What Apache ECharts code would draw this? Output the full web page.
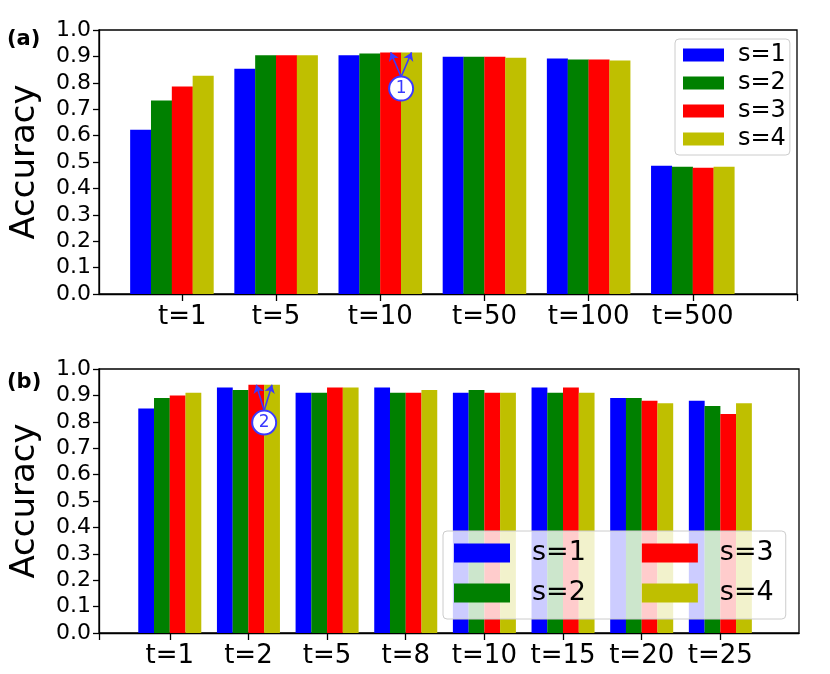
<!DOCTYPE html>
<html>
<head>
<meta charset="utf-8">
<script src="https://cdn.jsdelivr.net/npm/echarts@6/dist/echarts.min.js"></script>
<style>
  html, body { margin: 0; padding: 0; background: #fff; }
  #main { width: 830px; height: 674px; }
</style>
</head>
<body>
<div id="main"></div>
<script>
// panel (a)
var topLabels = ["t=1", "t=5", "t=10", "t=50", "t=100", "t=500"];
var topTickPos = [0.1, 1, 2, 3, 4, 5];
var topS1 = [0.622, 0.853, 0.904, 0.899, 0.892, 0.486];
var topS2 = [0.733, 0.904, 0.911, 0.899, 0.888, 0.482];
var topS3 = [0.786, 0.904, 0.915, 0.899, 0.888, 0.478];
var topS4 = [0.827, 0.904, 0.915, 0.895, 0.884, 0.482];

// panel (b)
var botLabels = ["t=1", "t=2", "t=5", "t=8", "t=10", "t=15", "t=20", "t=25"];
var botTickPos = [0, 1, 2, 3, 4, 5, 6, 7];
var botS1 = [0.85, 0.93, 0.91, 0.93, 0.91, 0.93, 0.89, 0.88];
var botS2 = [0.89, 0.92, 0.91, 0.91, 0.92, 0.91, 0.89, 0.86];
var botS3 = [0.90, 0.94, 0.93, 0.91, 0.91, 0.93, 0.88, 0.83];
var botS4 = [0.91, 0.94, 0.93, 0.92, 0.91, 0.91, 0.87, 0.87];

var seriesNames = ["s=1", "s=2", "s=3", "s=4"];
var colors = ["#0000ff", "#008000", "#ff0000", "#bfbf00"];

var FONT = "DejaVu Sans";
var barOffsets = [-0.3, -0.1, 0.1, 0.3];
var annColor = "#3a3aff";

var myChart = echarts.init(document.getElementById("main"));

function xAxisFor(gridIndex, min, max, tickPos, tickExtra, labels) {
  return {
    type: "value",
    gridIndex: gridIndex,
    min: min,
    max: max,
    axisLine: { show: true, onZero: false, lineStyle: { color: "#000", width: 1.3 } },
    axisTick: {
      show: true, length: 7, inside: false,
      lineStyle: { color: "#000", width: 1.3 },
      customValues: tickPos.concat(tickExtra)
    },
    axisLabel: {
      customValues: tickPos,
      margin: 10,
      fontSize: 26,
      fontFamily: FONT,
      color: "#000",
      formatter: function (v) { return labels[Math.round(v)] || ""; }
    },
    splitLine: { show: false }
  };
}

function yAxisFor(gridIndex) {
  return {
    type: "value",
    gridIndex: gridIndex,
    min: 0,
    max: 1,
    interval: 0.1,
    name: "Accuracy",
    nameLocation: "middle",
    nameGap: 57,
    nameTextStyle: { fontSize: 34, fontFamily: FONT, color: "#000" },
    axisLine: { show: true, onZero: false, lineStyle: { color: "#000", width: 1.3 } },
    axisTick: { show: true, length: 6, lineStyle: { color: "#000", width: 1.3 } },
    axisLabel: {
      margin: 8, fontSize: 22, fontFamily: FONT, color: "#000",
      formatter: function (v) { return v.toFixed(1); }
    },
    splitLine: { show: false }
  };
}

function barsFor(idx, lists, unitPx) {
  return lists.map(function (vals, j) {
    return {
      name: seriesNames[j],
      type: "bar",
      xAxisIndex: idx,
      yAxisIndex: idx,
      barWidth: unitPx * 0.2,
      barGap: "-100%",
      itemStyle: { color: colors[j] },
      data: vals.map(function (v, i) { return [i + barOffsets[j], v]; })
    };
  });
}

var topGrid = { left: 92, right: 33, top: 30, height: 264, show: true, borderColor: "#000", borderWidth: 1.3 };
var botGrid = { left: 95, right: 31, top: 369, height: 264, show: true, borderColor: "#000", borderWidth: 1.3 };
var topUnit = (830 - 92 - 33) / (6.0 + 0.7);
var botUnit = (830 - 95 - 31) / (8.0 + 0.9);

var legendText = { fontFamily: FONT, color: "#000" };

var series = []
  .concat(barsFor(0, [topS1, topS2, topS3, topS4], topUnit))
  .concat(barsFor(1, [botS1, botS2, botS3, botS4], botUnit));

// circled annotations with arrows to the bars they mark
series.push({
  type: "lines",
  coordinateSystem: "cartesian2d",
  xAxisIndex: 0, yAxisIndex: 0,
  z: 5,
  symbol: ["none", "arrow"],
  symbolSize: 8,
  lineStyle: { color: annColor, width: 1.6, opacity: 1 },
  data: [
    { coords: [[2.2, 0.823], [2.1, topS3[2]]] },
    { coords: [[2.2, 0.823], [2.3, topS4[2]]] }
  ]
});
series.push({
  type: "lines",
  coordinateSystem: "cartesian2d",
  xAxisIndex: 1, yAxisIndex: 1,
  z: 5,
  symbol: ["none", "arrow"],
  symbolSize: 8,
  lineStyle: { color: annColor, width: 1.6, opacity: 1 },
  data: [
    { coords: [[1.2, 0.843], [1.1, botS3[1]]] },
    { coords: [[1.2, 0.843], [1.3, botS4[1]]] }
  ]
});
[[0, 2.2, 0.778, "1"], [1, 1.2, 0.797, "2"]].forEach(function (a) {
  series.push({
    type: "scatter",
    xAxisIndex: a[0], yAxisIndex: a[0],
    z: 6,
    symbol: "circle",
    symbolSize: 24,
    itemStyle: { color: "#fff", borderColor: annColor, borderWidth: 2, opacity: 1 },
    label: {
      show: true, position: "inside", formatter: a[3],
      fontSize: 17, fontFamily: FONT, color: annColor
    },
    data: [[a[1], a[2]]]
  });
});

var option = {
  animation: false,
  backgroundColor: "#fff",
  title: [
    { text: "(a)", left: 7, top: 29, padding: 0,
      textStyle: { fontSize: 21, fontWeight: "bold", fontFamily: FONT, color: "#000" } },
    { text: "(b)", left: 7, top: 372, padding: 0,
      textStyle: { fontSize: 21, fontWeight: "bold", fontFamily: FONT, color: "#000" } }
  ],
  grid: [topGrid, botGrid],
  xAxis: [
    xAxisFor(0, -0.7, 6.0, topTickPos, [6], topLabels),
    xAxisFor(1, -0.9, 8.0, botTickPos, [-0.9], botLabels)
  ],
  yAxis: [yAxisFor(0), yAxisFor(1)],
  legend: [
    {
      data: seriesNames,
      orient: "vertical",
      left: 675, top: 39,
      padding: [2, 4, 2, 8],
      itemGap: 0,
      itemWidth: 41, itemHeight: 13,
      icon: "rect",
      selectedMode: false,
      backgroundColor: "rgba(255,255,255,0.8)",
      borderColor: "#cccccc", borderWidth: 1, borderRadius: 4,
      textStyle: Object.assign({ fontSize: 24, lineHeight: 28, padding: [0, 0, 0, 9] }, legendText)
    },
    {
      data: ["s=1", "s=3"],
      orient: "horizontal",
      left: 443, top: 531,
      padding: [7, 12, 51, 11],
      itemGap: 56,
      itemWidth: 56, itemHeight: 19,
      icon: "rect",
      selectedMode: false,
      backgroundColor: "rgba(255,255,255,0.8)",
      borderColor: "#cccccc", borderWidth: 1, borderRadius: 4,
      textStyle: Object.assign({ fontSize: 27, lineHeight: 30, padding: [0, 0, 0, 17] }, legendText)
    },
    {
      data: ["s=2", "s=4"],
      orient: "horizontal",
      left: 454, top: 578,
      padding: 0,
      z: 5,
      itemGap: 56,
      itemWidth: 56, itemHeight: 19,
      icon: "rect",
      selectedMode: false,
      textStyle: Object.assign({ fontSize: 27, lineHeight: 30, padding: [0, 0, 0, 17] }, legendText)
    }
  ],
  series: series
};

myChart.setOption(option);
</script>
</body>
</html>
